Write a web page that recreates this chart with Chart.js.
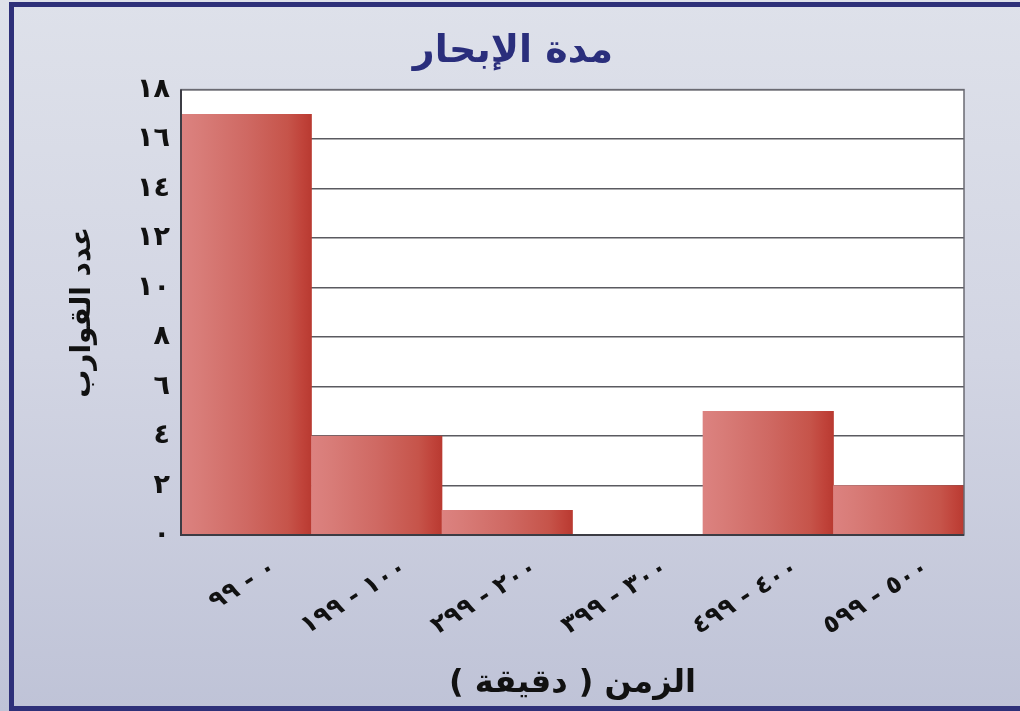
<!DOCTYPE html>
<html lang="ar">
<head>
<meta charset="utf-8">
<title>مدة الإبحار</title>
<script src="https://cdn.jsdelivr.net/npm/chart.js@4.4.1/dist/chart.umd.min.js"></script>
<style>
  html, body { margin: 0; padding: 0; }
  #wrap {
    position: relative;
    width: 1020px;
    height: 711px;
    overflow: hidden;
    background: linear-gradient(to bottom, #dee1ea 0%, #d2d5e3 50%, #bfc3d7 100%);
  }
  #frame {
    position: absolute;
    left: 9px;
    top: 2px;
    width: 1020px;
    height: 709px;
    box-sizing: border-box;
    border: 5px solid #2e3079;
  }
  #chart { position: absolute; left: 0; top: 0; }
</style>
</head>
<body>
<div id="wrap">
  <div id="frame"></div>
  <canvas id="chart" width="1020" height="711"></canvas>
</div>
<script>
// data
const timeRanges = ['٠ - ٩٩', '١٠٠ - ١٩٩', '٢٠٠ - ٢٩٩', '٣٠٠ - ٣٩٩', '٤٠٠ - ٤٩٩', '٥٠٠ - ٥٩٩'];
const boatCounts = [17, 4, 1, 0, 5, 2];
const yTickLabels = ['٠', '٢', '٤', '٦', '٨', '١٠', '١٢', '١٤', '١٦', '١٨'];

const chartTitle = 'مدة الإبحار';
const xTitle = 'الزمن ( دقيقة )';
const yTitle = 'عدد القوارب';

const arabicFont = "'DejaVu Sans', 'Noto Sans', sans-serif";

function barGradient(context) {
  const chart = context.chart;
  const area = chart.chartArea;
  if (!area) return '#d06a64';
  const xScale = chart.scales.x;
  const w = (area.right - area.left) / timeRanges.length;
  const cx = xScale.getPixelForValue(context.dataIndex);
  const g = chart.ctx.createLinearGradient(cx - w / 2, 0, cx + w / 2, 0);
  g.addColorStop(0, '#dc8280');
  g.addColorStop(0.15, '#d87c78');
  g.addColorStop(0.5, '#cf6963');
  g.addColorStop(0.82, '#c6544a');
  g.addColorStop(0.93, '#c0433a');
  g.addColorStop(1, '#b93a31');
  return g;
}

const plotFrame = {
  id: 'plotFrame',
  beforeDraw(chart) {
    const { ctx, chartArea: a } = chart;
    ctx.save();
    ctx.fillStyle = '#ffffff';
    ctx.fillRect(a.left, a.top, a.right - a.left, a.bottom - a.top);
    ctx.restore();
  },
  afterDatasetsDraw(chart) {
    const { ctx, chartArea: a } = chart;
    ctx.save();
    ctx.strokeStyle = '#6a6a72';
    ctx.lineWidth = 1.5;
    ctx.strokeRect(a.left, a.top, a.right - a.left, a.bottom - a.top);
    ctx.strokeStyle = '#3c3c44';
    ctx.lineWidth = 2;
    ctx.beginPath();
    ctx.moveTo(a.left, a.top);
    ctx.lineTo(a.left, a.bottom);
    ctx.lineTo(a.right, a.bottom);
    ctx.stroke();
    ctx.restore();
  }
};

new Chart(document.getElementById('chart'), {
  type: 'bar',
  data: {
    labels: timeRanges,
    datasets: [{
      data: boatCounts,
      backgroundColor: barGradient,
      borderWidth: 0,
      categoryPercentage: 1,
      barPercentage: 1
    }]
  },
  options: {
    responsive: false,
    animation: false,
    devicePixelRatio: 1,
    layout: { padding: { left: 62, right: 56, top: 14, bottom: 8 } },
    plugins: {
      legend: { display: false },
      tooltip: { enabled: false },
      title: {
        display: true,
        text: chartTitle,
        color: '#2a2e7c',
        font: { family: arabicFont, size: 38, weight: 'bold' },
        padding: { top: 15, bottom: 15 }
      }
    },
    scales: {
      x: {
        grid: { display: false, drawTicks: false },
        border: { display: false },
        ticks: {
          color: '#111',
          font: { family: arabicFont, size: 25, weight: 'bold' },
          minRotation: 32,
          maxRotation: 32,
          labelOffset: 28,
          padding: 18
        },
        title: {
          display: true,
          text: xTitle,
          color: '#111',
          font: { family: arabicFont, size: 32, weight: 'bold' },
          padding: { top: 0, bottom: 0 }
        },
        afterFit(scale) { scale.height = 168; }
      },
      y: {
        min: 0,
        max: 18,
        grid: { color: '#5a5a60', lineWidth: 1.5, drawTicks: false },
        border: { display: false },
        ticks: {
          stepSize: 2,
          color: '#111',
          padding: 11,
          font: { family: arabicFont, size: 27, weight: 'bold' },
          callback: (value) => yTickLabels[value / 2]
        },
        title: {
          display: true,
          text: yTitle,
          color: '#111',
          font: { family: arabicFont, size: 28, weight: 'bold' },
          padding: { top: 4, bottom: 0 }
        },
        afterFit(scale) { scale.width = 119; }
      }
    }
  },
  plugins: [plotFrame]
});
</script>
</body>
</html>
